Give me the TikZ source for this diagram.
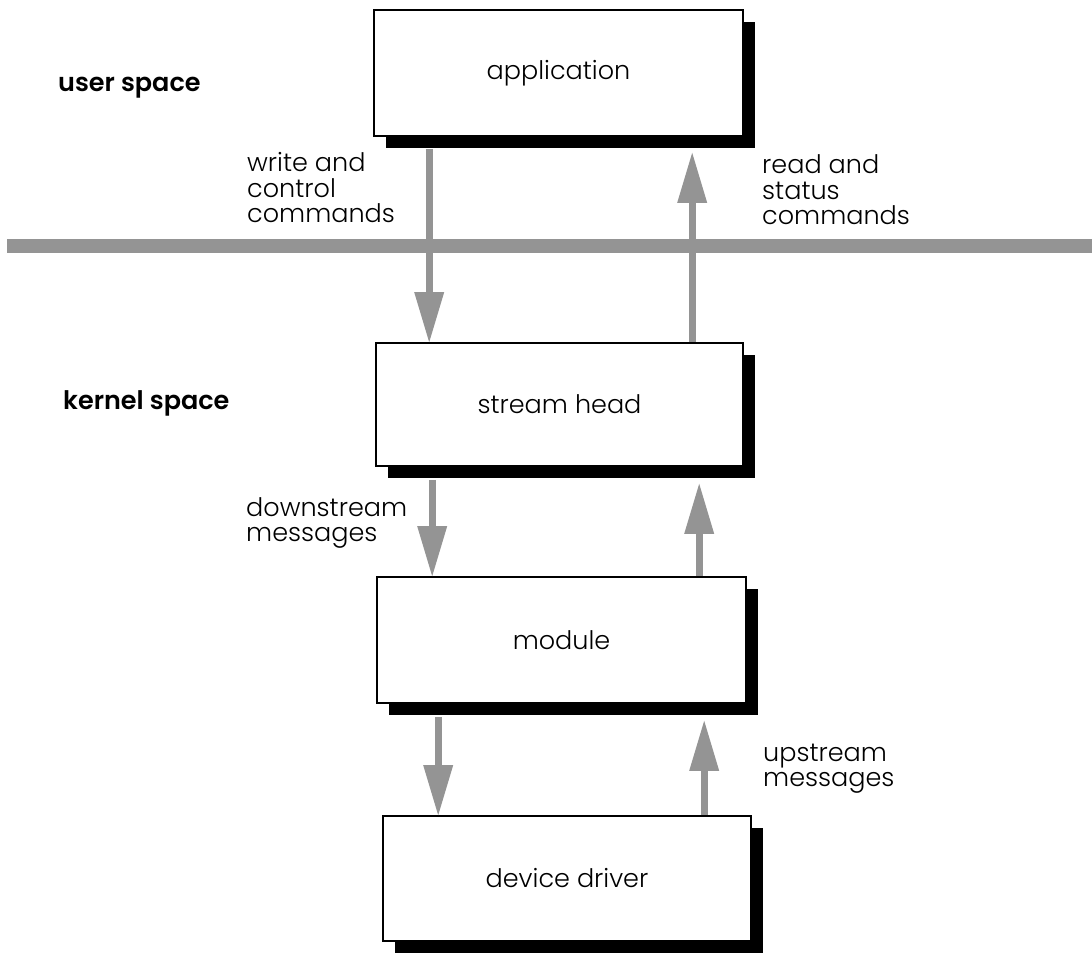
\documentclass[tikz,border=0pt]{standalone}
\usepackage{fontspec}
\setmainfont{Poppins}[UprightFont={* Light}, BoldFont={* SemiBold}]
\usetikzlibrary{arrows.meta}
\definecolor{stipple}{gray}{0.58}
\begin{document}
\begin{tikzpicture}[x=1pt,y=1pt,
  txt/.style={font=\fontsize{25.5}{25.5}\selectfont, inner sep=0pt, align=left},
  box/.style={draw=black, line width=1.6pt, fill=white, inner sep=0pt,
    font=\fontsize{25.5}{25.5}\selectfont,
    preaction={fill=black, transform canvas={xshift=12pt,yshift=-12pt}}},
  flow/.style={draw=stipple, line width=7pt,
    -{Triangle[width=30pt,length=50pt,line width=0pt]}},
  divider/.style={draw=stipple, line width=14pt}]
\useasboundingbox (0,0) rectangle (1092,953);

% boundary between user space and kernel space
\draw[divider] (7,707) -- (1092,707);

% the stack of boxes
\node[box, minimum width=369pt, minimum height=126pt] (app) at (558.5,880) {application};
\node[box, minimum width=367pt, minimum height=123pt] (sh) at (559.5,548.5) {stream head};
\node[box, minimum width=369pt, minimum height=126pt] (mod) at (561.5,313) {module};
\node[box, minimum width=368pt, minimum height=125pt] (dd) at (567,74.5) {device driver};

% downstream flow (left) and upstream flow (right)
\draw[flow] ([shift={(56pt,-12pt)}]app.south west) -- ([xshift=54pt]sh.north west);
\draw[flow] ([xshift=317pt]sh.north west) -- ([shift={(319pt,-16pt)}]app.south west);
\draw[flow] ([shift={(57pt,-13pt)}]sh.south west) -- ([xshift=56pt]mod.north west);
\draw[flow] ([xshift=323pt]mod.north west) -- ([shift={(324pt,-17pt)}]sh.south west);
\draw[flow] ([shift={(62pt,-13pt)}]mod.south west) -- ([xshift=56pt]dd.north west);
\draw[flow] ([xshift=322pt]dd.north west) -- ([shift={(328pt,-17pt)}]mod.south west);

% labels (base anchor sits on the last line)
\node[txt, anchor=base west] (us) at (58,861) {\bfseries user space};
\node[txt, anchor=base west] (ks) at (63,543) {\bfseries kernel space};
\node[txt, anchor=base west] (wc) at (247,730) {write and\\control\\commands};
\node[txt, anchor=base west] (rs) at (762,728) {read and\\status\\commands};
\node[txt, anchor=base west] (dm) at (246,411) {downstream\\messages};
\node[txt, anchor=base west] (um) at (763,166) {upstream\\messages};
\end{tikzpicture}
\end{document}
